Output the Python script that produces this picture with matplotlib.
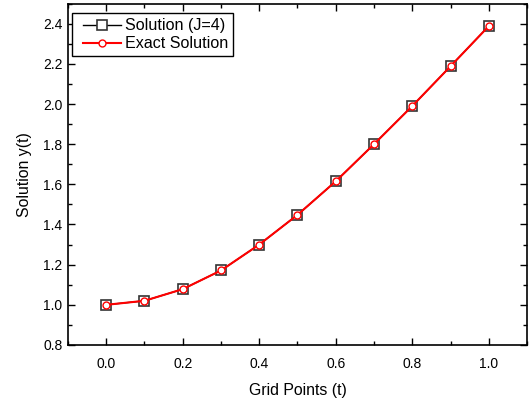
import matplotlib
matplotlib.use("Agg")
import matplotlib.pyplot as plt
from matplotlib.ticker import MultipleLocator
from matplotlib.legend_handler import HandlerLine2D

plt.rcParams['font.family'] = ['Liberation Sans', 'DejaVu Sans']

t = [0.0, 0.1, 0.2, 0.3, 0.4, 0.5, 0.6, 0.7, 0.8, 0.9, 1.0]
y_approx = [1.000, 1.020, 1.078, 1.171, 1.300, 1.448, 1.615, 1.800, 1.990, 2.188, 2.388]
y_exact = [1.000, 1.020, 1.078, 1.171, 1.300, 1.448, 1.615, 1.800, 1.990, 2.188, 2.388]

fig = plt.figure(figsize=(5.31, 4.03), dpi=100)
ax = fig.add_axes([0.128, 0.144, 0.8645, 0.847])

l1, = ax.plot(t, y_approx, color='black', lw=1.0, marker='s', markersize=7.2,
              markerfacecolor='white', markeredgecolor='#333333', markeredgewidth=1.2,
              label='Solution (J=4)')
l2, = ax.plot(t, y_exact, color='red', lw=1.5, marker='o', markersize=5,
              markerfacecolor='white', markeredgecolor='red', markeredgewidth=1.0,
              label='Exact Solution')

ax.set_xlim(-0.1, 1.1)
ax.set_ylim(0.8, 2.5)
ax.set_xticks([0.0, 0.2, 0.4, 0.6, 0.8, 1.0])
ax.set_yticks([0.8, 1.0, 1.2, 1.4, 1.6, 1.8, 2.0, 2.2, 2.4])
ax.xaxis.set_minor_locator(MultipleLocator(0.1))
ax.yaxis.set_minor_locator(MultipleLocator(0.1))
ax.tick_params(which='both', direction='in', top=True, right=True, labelsize=10)
ax.tick_params(which='major', length=5, width=1)
ax.tick_params(which='minor', length=3, width=1)
ax.tick_params(axis='x', pad=9)
ax.tick_params(axis='y', pad=4)
for s in ax.spines.values():
    s.set_linewidth(1.2)

ax.set_xlabel('Grid Points (t)', fontsize=11.4, labelpad=8)
ax.set_ylabel('Solution y(t)', fontsize=11.4, labelpad=8)

hm = {l1: HandlerLine2D(xpad=0.4), l2: HandlerLine2D(xpad=0.4)}
leg = ax.legend(handler_map=hm, loc='upper left', bbox_to_anchor=(0.008, 0.9715),
                fontsize=11.6, fancybox=False, framealpha=1,
                edgecolor='black', handlelength=2.74, borderpad=0.3,
                labelspacing=0.2, handletextpad=0.25, borderaxespad=0.0)
leg.get_frame().set_linewidth(1.0)

fig.savefig('out.png', dpi=100)
